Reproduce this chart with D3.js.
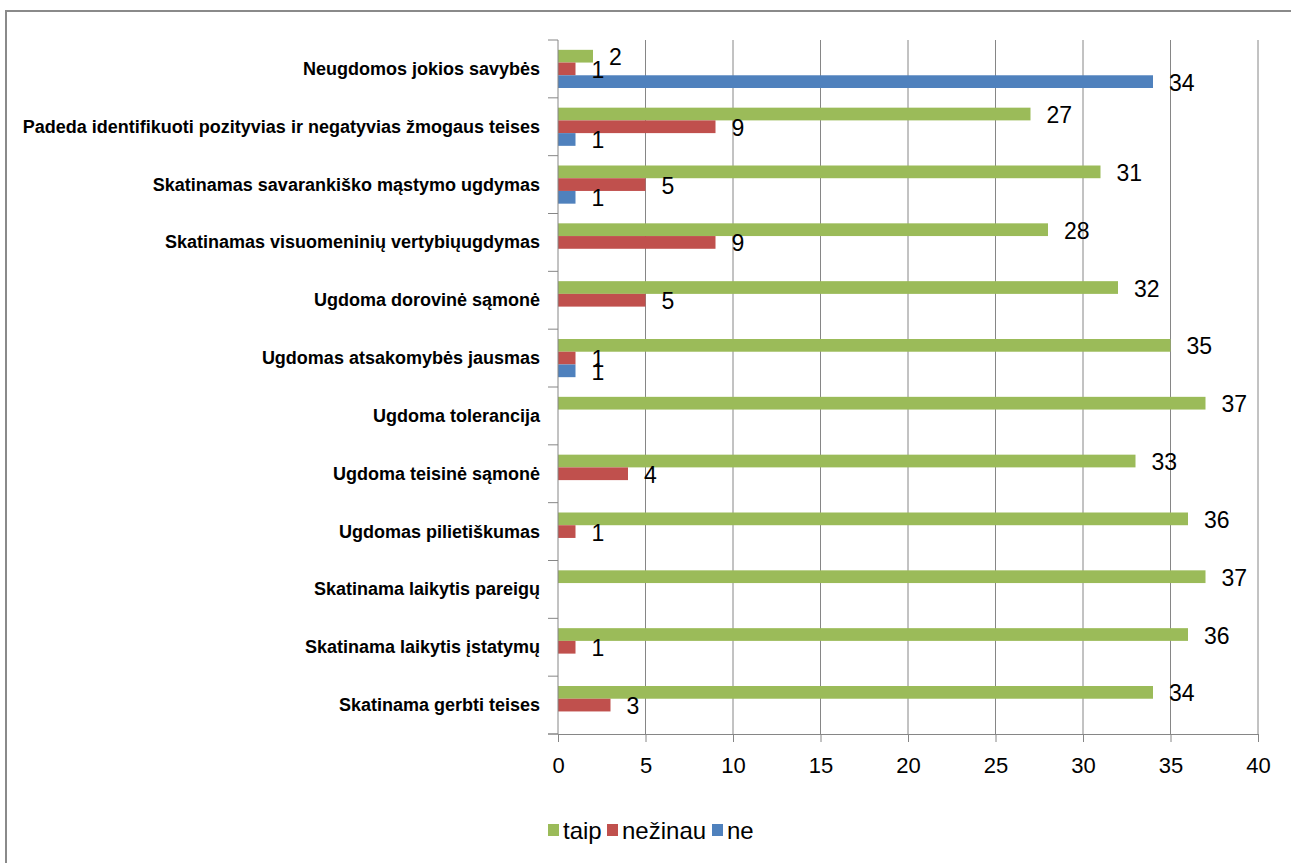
<!DOCTYPE html>
<html><head><meta charset="utf-8">
<script src="https://cdn.jsdelivr.net/npm/d3@7"></script>
<style>
html,body{margin:0;padding:0;background:#fff;}
svg{display:block;}
</style></head>
<body>
<svg id="chart" width="1291" height="863"></svg>
<script>
const categories = [
  "Neugdomos jokios savybės",
  "Padeda identifikuoti pozityvias ir negatyvias žmogaus teises",
  "Skatinamas savarankiško mąstymo ugdymas",
  "Skatinamas visuomeninių vertybiųugdymas",
  "Ugdoma dorovinė sąmonė",
  "Ugdomas atsakomybės jausmas",
  "Ugdoma tolerancija",
  "Ugdoma teisinė sąmonė",
  "Ugdomas pilietiškumas",
  "Skatinama laikytis pareigų",
  "Skatinama laikytis įstatymų",
  "Skatinama gerbti teises"
];
const seriesNames = ["taip", "nežinau", "ne"];
const taip    = [2, 27, 31, 28, 32, 35, 37, 33, 36, 37, 36, 34];
const nezinau = [1, 9, 5, 9, 5, 1, null, 4, 1, null, 1, 3];
const ne      = [34, 1, 1, null, null, 1, null, null, null, null, null, null];
const xTicks  = [0, 5, 10, 15, 20, 25, 30, 35, 40];
const colors  = ["#9BBB59", "#C0504D", "#4F81BD"];

const seriesValues = [taip, nezinau, ne];
const svg = d3.select("#chart");
const font = "'Liberation Sans Narrow','Liberation Sans',Arial,sans-serif";
const numFont = "'Liberation Sans',Arial,sans-serif";

// outer border (right and bottom edges lie outside the picture)
svg.append("rect").attr("x", 6).attr("y", 11).attr("width", 1400).attr("height", 900)
  .attr("fill", "none").attr("stroke", "#8a8a8a").attr("stroke-width", 2);

const pLeft = 558, pRight = 1258, pTop = 40, pBottom = 734;
const x = d3.scaleLinear().domain([0, 40]).range([pLeft, pRight]);
const y = d3.scaleBand().domain(categories).range([pTop, pBottom]).padding(0);
const bw = y.bandwidth();
const groupH = bw * 0.66;
const y1 = d3.scaleBand().domain(seriesNames).range([(bw - groupH) / 2, (bw + groupH) / 2]).padding(0);

// gridlines
svg.append("g").selectAll("line").data(xTicks.filter(d => d > 0)).join("line")
  .attr("x1", d => x(d)).attr("x2", d => x(d)).attr("y1", pTop).attr("y2", pBottom)
  .attr("stroke", "#868686").attr("stroke-width", 1);

// bars
const rows = [];
categories.forEach((c, i) => seriesNames.forEach((s, j) => {
  const v = seriesValues[j][i];
  if (v !== null && v !== undefined) rows.push({c, s, v, j});
}));
svg.append("g").selectAll("rect").data(rows).join("rect")
  .attr("x", x(0))
  .attr("y", d => y(d.c) + y1(d.s))
  .attr("width", d => x(d.v) - x(0))
  .attr("height", y1.bandwidth())
  .attr("fill", d => colors[d.j]);

// left axis
svg.append("line").attr("x1", pLeft).attr("x2", pLeft).attr("y1", pTop).attr("y2", pBottom)
  .attr("stroke", "#868686").attr("stroke-width", 1);
const bounds = categories.map(c => y(c)).concat([pBottom]);
svg.append("g").selectAll("line").data(bounds).join("line")
  .attr("x1", pLeft - 10).attr("x2", pLeft).attr("y1", d => d).attr("y2", d => d)
  .attr("stroke", "#868686").attr("stroke-width", 1);

// category labels
svg.append("g").selectAll("text").data(categories).join("text")
  .attr("x", 540).attr("y", d => y(d) + bw / 2)
  .attr("text-anchor", "end").attr("dominant-baseline", "central")
  .attr("font-family", font).attr("font-weight", "bold").attr("font-size", 18)
  .attr("fill", "#000").text(d => d);

// bottom axis
const xAxis = d3.axisBottom(x).tickValues(xTicks).tickSize(8).tickSizeOuter(0).tickPadding(15);
const gx = svg.append("g").attr("transform", `translate(0,${pBottom})`).call(xAxis);
gx.select(".domain").attr("stroke", "#868686");
gx.selectAll(".tick line").attr("stroke", "#868686");
gx.selectAll(".tick text").attr("font-family", numFont).attr("font-size", 22).attr("fill", "#000");
svg.append("line").attr("x1", pLeft - 10).attr("x2", pLeft).attr("y1", pBottom).attr("y2", pBottom)
  .attr("stroke", "#868686");

// data labels
svg.append("g").selectAll("text").data(rows).join("text")
  .attr("x", d => x(d.v) + 16)
  .attr("y", d => y(d.c) + y1(d.s) + y1.bandwidth() / 2 + 1)
  .attr("dominant-baseline", "central")
  .attr("font-family", numFont).attr("font-size", 23).attr("fill", "#000")
  .text(d => d.v);

// legend
const legendX = [548, 607, 712];
const lg = svg.append("g").selectAll("g").data(seriesNames).join("g")
  .attr("transform", (d, i) => `translate(${legendX[i]},830)`);
lg.append("rect").attr("x", 0).attr("y", -6).attr("width", 11).attr("height", 12)
  .attr("fill", (d, i) => colors[i]);
lg.append("text").attr("x", 15).attr("y", 0).attr("dominant-baseline", "central")
  .attr("font-family", numFont).attr("font-size", 24).attr("fill", "#000").text(d => d);
</script>
</body></html>
